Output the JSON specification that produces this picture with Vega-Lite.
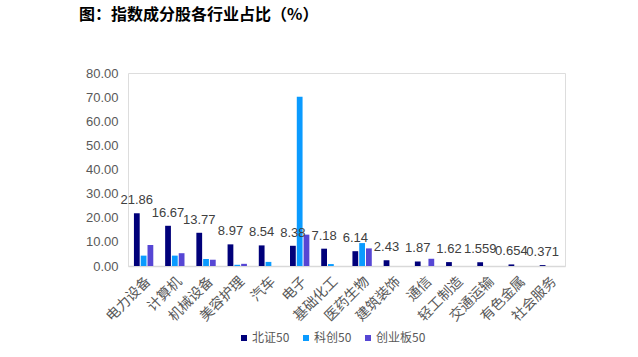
{
  "$schema": "https://vega.github.io/schema/vega-lite/v6.json",
  "width": 437,
  "height": 193,
  "autosize": {"type": "none"},
  "padding": {"left": 128, "top": 73, "right": 73, "bottom": 91},
  "background": "white",
  "title": {
    "text": "图：指数成分股各行业占比（%）",
    "anchor": "start",
    "frame": "group",
    "dx": -49,
    "offset": 44,
    "font": "Noto Sans CJK SC",
    "fontSize": 16,
    "fontWeight": "bold",
    "color": "#000000"
  },
  "data": {
    "values": [
      {"industry": "电力设备", "series": "北证50", "value": 21.86, "label": "21.86"},
      {"industry": "电力设备", "series": "科创50", "value": 4.3},
      {"industry": "电力设备", "series": "创业板50", "value": 8.7},
      {"industry": "计算机", "series": "北证50", "value": 16.67, "label": "16.67"},
      {"industry": "计算机", "series": "科创50", "value": 4.3},
      {"industry": "计算机", "series": "创业板50", "value": 5.3},
      {"industry": "机械设备", "series": "北证50", "value": 13.77, "label": "13.77"},
      {"industry": "机械设备", "series": "科创50", "value": 2.9},
      {"industry": "机械设备", "series": "创业板50", "value": 2.6},
      {"industry": "美容护理", "series": "北证50", "value": 8.97, "label": "8.97"},
      {"industry": "美容护理", "series": "科创50", "value": 0.5},
      {"industry": "美容护理", "series": "创业板50", "value": 0.9},
      {"industry": "汽车", "series": "北证50", "value": 8.54, "label": "8.54"},
      {"industry": "汽车", "series": "科创50", "value": 1.7},
      {"industry": "电子", "series": "北证50", "value": 8.38, "label": "8.38"},
      {"industry": "电子", "series": "科创50", "value": 70.2},
      {"industry": "电子", "series": "创业板50", "value": 13.0},
      {"industry": "基础化工", "series": "北证50", "value": 7.18, "label": "7.18"},
      {"industry": "基础化工", "series": "科创50", "value": 0.8},
      {"industry": "医药生物", "series": "北证50", "value": 6.14, "label": "6.14"},
      {"industry": "医药生物", "series": "科创50", "value": 9.5},
      {"industry": "医药生物", "series": "创业板50", "value": 7.3},
      {"industry": "建筑装饰", "series": "北证50", "value": 2.43, "label": "2.43"},
      {"industry": "通信", "series": "北证50", "value": 1.87, "label": "1.87"},
      {"industry": "通信", "series": "创业板50", "value": 3.0},
      {"industry": "轻工制造", "series": "北证50", "value": 1.62, "label": "1.62"},
      {"industry": "交通运输", "series": "北证50", "value": 1.559, "label": "1.559"},
      {"industry": "有色金属", "series": "北证50", "value": 0.654, "label": "0.654"},
      {"industry": "社会服务", "series": "北证50", "value": 0.371, "label": "0.371"}
    ]
  },
  "encoding": {
    "x": {
      "field": "industry",
      "type": "nominal",
      "sort": ["电力设备", "计算机", "机械设备", "美容护理", "汽车", "电子", "基础化工", "医药生物", "建筑装饰", "通信", "轻工制造", "交通运输", "有色金属", "社会服务"],
      "scale": {"paddingInner": 0.38, "paddingOuter": 0.19},
      "axis": {
        "title": null,
        "labelAngle": -45,
        "labelFont": "Noto Sans CJK SC",
        "labelFontSize": 14,
        "labelColor": "#595959",
        "labelPadding": 8,
        "ticks": false,
        "domainColor": "#d9d9d9",
        "domainWidth": 1.5
      }
    },
    "xOffset": {
      "field": "series",
      "type": "nominal",
      "scale": {"domain": ["北证50", "科创50", "创业板50"], "paddingInner": 0.15}
    },
    "y": {
      "field": "value",
      "type": "quantitative",
      "scale": {"domain": [0, 80], "nice": false},
      "axis": {
        "title": null,
        "format": ".2f",
        "values": [0, 10, 20, 30, 40, 50, 60, 70, 80],
        "labelOverlap": false,
        "grid": false,
        "domain": false,
        "ticks": false,
        "labelFont": "Liberation Sans",
        "labelFontSize": 13,
        "labelColor": "#595959",
        "labelPadding": 10
      }
    }
  },
  "layer": [
    {
      "mark": {"type": "bar"},
      "encoding": {
        "color": {
          "field": "series",
          "type": "nominal",
          "scale": {"domain": ["北证50", "科创50", "创业板50"], "range": ["#00007A", "#0A9BFF", "#5646D4"]},
          "legend": {
            "title": null,
            "orient": "none",
            "direction": "horizontal",
            "legendX": 110,
            "legendY": 259,
            "symbolType": "square",
            "symbolSize": 36,
            "symbolStrokeWidth": 0,
            "labelFont": "Noto Sans CJK SC",
            "labelFontSize": 12,
            "labelColor": "#595959",
            "columnPadding": 10,
            "labelOffset": 2
          }
        }
      }
    },
    {
      "transform": [{"filter": "datum.label != null"}],
      "mark": {"type": "text", "baseline": "bottom", "dy": -6, "font": "Liberation Sans", "fontSize": 13, "color": "#404040"},
      "encoding": {
        "text": {"field": "label"}
      }
    }
  ]
}
